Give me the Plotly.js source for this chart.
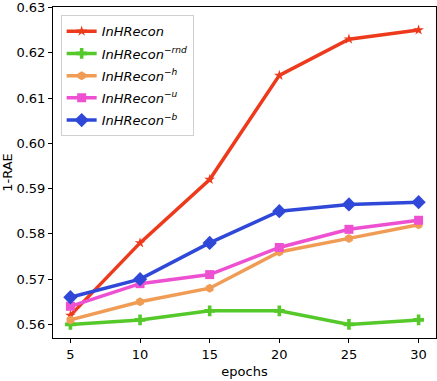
<!DOCTYPE html>
<html>
<head>
<meta charset="utf-8">
<script src="https://cdn.plot.ly/plotly-3.0.1.min.js"></script>
<style>body{margin:0;background:#fff}#plot{width:437px;height:381px}</style>
</head>
<body>
<div id="plot"></div>
<script>
// epochs on the x axis, 1-RAE for each variant
var epochs = [5, 10, 15, 20, 25, 30];
var full = [0.562, 0.578, 0.592, 0.615, 0.623, 0.625];
var noRnd = [0.560, 0.561, 0.563, 0.563, 0.560, 0.561];
var noH = [0.561, 0.565, 0.568, 0.576, 0.579, 0.582];
var noU = [0.564, 0.569, 0.571, 0.577, 0.581, 0.583];
var noB = [0.566, 0.570, 0.578, 0.585, 0.5865, 0.587];
var yTicks = [0.56, 0.57, 0.58, 0.59, 0.60, 0.61, 0.62, 0.63];
var names = ['<i>InHRecon</i>', '<i>InHRecon</i><sup><i>\u2212rnd</i></sup>', '<i>InHRecon</i><sup><i>\u2212h</i></sup>',
    '<i>InHRecon</i><sup><i>\u2212u</i></sup>', '<i>InHRecon</i><sup><i>\u2212b</i></sup>'];

function line(y, name, color, symbol, size) {
    return {
        x: epochs, y: y, name: name, legendgroup: name, type: 'scatter', mode: 'lines+markers',
        line: {color: color, width: 3.5},
        marker: {color: color, symbol: symbol, size: size}
    };
}

var data = [
    line(full, names[0], '#ee3a1c', 'star', 8),
    line(noRnd, names[1], '#55c92a', 'cross', 9),
    line(noH, names[2], '#f09c55', 'hexagon', 9),
    line(noU, names[3], '#ee50d2', 'square', 9),
    line(noB, names[4], '#2f48d8', 'diamond', 11)
];

var layout = {
    width: 437, height: 381,
    margin: {l: 53, r: 1, t: 7, b: 43},
    paper_bgcolor: '#fff', plot_bgcolor: '#fff',
    font: {family: 'DejaVu Sans', size: 13, color: '#000'},
    showlegend: true,
    legend: {x: 0.02, y: 0.975, xanchor: 'left', yanchor: 'top', bgcolor: 'rgba(255,255,255,0.8)',
        bordercolor: '#d0d0d0', borderwidth: 1, font: {size: 13}, tracegroupgap: 2.3},
    xaxis: {
        range: [3.75, 31.25], tickvals: epochs, ticks: 'outside', ticklen: 4, tickcolor: '#000',
        showgrid: false, zeroline: false, showline: true, mirror: true, linecolor: '#000', linewidth: 1,
        title: {text: 'epochs', font: {size: 13}, standoff: 6}
    },
    yaxis: {
        range: [0.557, 0.6301], tickvals: yTicks, tickformat: '.2f', ticklabeloverflow: 'allow',
        ticks: 'outside', ticklen: 4, tickcolor: '#000',
        showgrid: false, zeroline: false, showline: true, mirror: true, linecolor: '#000', linewidth: 1,
        title: {text: '1-RAE', font: {size: 13}, standoff: 4}
    }
};

Plotly.newPlot('plot', data, layout, {displayModeBar: false});
</script>
</body>
</html>
